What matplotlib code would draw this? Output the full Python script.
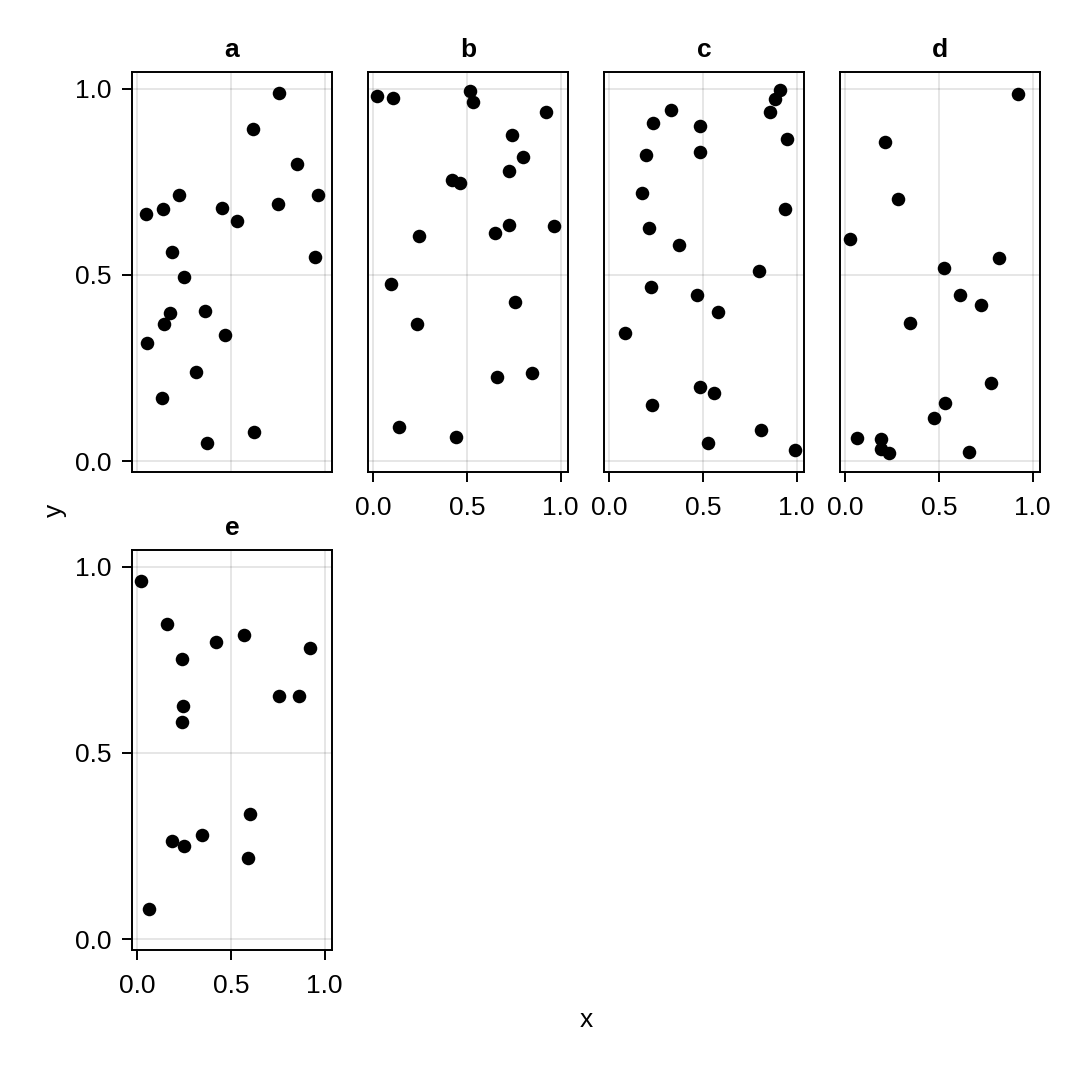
import matplotlib
matplotlib.use("Agg")
import matplotlib.pyplot as plt

plt.rcParams['font.family'] = ['Liberation Sans', 'DejaVu Sans']

# facet names and scatter values
panels = ["a", "b", "c", "d", "e"]

x_a = [0.754, 0.619, 0.852, 0.963, 0.224, 0.137, 0.044, 0.453, 0.533, 0.749, 0.186,
       0.950, 0.249, 0.172, 0.359, 0.140, 0.050, 0.468, 0.311, 0.130, 0.623, 0.370]
y_a = [0.988, 0.892, 0.797, 0.715, 0.714, 0.676, 0.664, 0.679, 0.646, 0.691, 0.561,
       0.547, 0.495, 0.398, 0.404, 0.368, 0.317, 0.340, 0.239, 0.169, 0.079, 0.050]

x_b = [0.019, 0.103, 0.517, 0.533, 0.920, 0.738, 0.800, 0.724, 0.420, 0.462, 0.723,
       0.964, 0.648, 0.242, 0.096, 0.756, 0.231, 0.660, 0.847, 0.138, 0.441]
y_b = [0.980, 0.975, 0.994, 0.964, 0.937, 0.877, 0.817, 0.780, 0.754, 0.747, 0.633,
       0.632, 0.612, 0.604, 0.476, 0.428, 0.369, 0.227, 0.238, 0.091, 0.065]

x_c = [0.913, 0.886, 0.857, 0.327, 0.231, 0.482, 0.947, 0.194, 0.482, 0.174, 0.938, 0.213,
       0.373, 0.797, 0.224, 0.469, 0.578, 0.083, 0.485, 0.560, 0.229, 0.811, 0.528, 0.991]
y_c = [0.998, 0.973, 0.938, 0.943, 0.908, 0.901, 0.866, 0.823, 0.830, 0.721, 0.678, 0.626,
       0.580, 0.511, 0.468, 0.446, 0.400, 0.345, 0.198, 0.182, 0.152, 0.083, 0.050, 0.031]

x_d = [0.922, 0.213, 0.279, 0.025, 0.822, 0.528, 0.612, 0.726, 0.345,
       0.777, 0.532, 0.475, 0.060, 0.192, 0.188, 0.233, 0.660]
y_d = [0.987, 0.858, 0.703, 0.596, 0.545, 0.520, 0.447, 0.419, 0.371,
       0.210, 0.155, 0.116, 0.061, 0.060, 0.034, 0.021, 0.025]

x_e = [0.019, 0.156, 0.236, 0.420, 0.571, 0.920, 0.754, 0.865,
       0.245, 0.236, 0.601, 0.345, 0.186, 0.250, 0.590, 0.060]
y_e = [0.962, 0.846, 0.751, 0.797, 0.818, 0.782, 0.653, 0.653,
       0.626, 0.582, 0.336, 0.280, 0.263, 0.250, 0.219, 0.082]

xs = [x_a, x_b, x_c, x_d, x_e]
ys = [y_a, y_b, y_c, y_d, y_e]
ticks = [0.0, 0.5, 1.0]
tick_labels = ["0.0", "0.5", "1.0"]

W, H = 1072, 1066
fig = plt.figure(figsize=(W / 100, H / 100), dpi=100)

lefts = [132, 368, 604, 840]
tops = [72, 550]
pw, ph = 200, 400
fs = 19

for i, name in enumerate(panels):
    row, col = divmod(i, 4)
    left = lefts[col]
    top = tops[row]
    ax = fig.add_axes([left / W, 1 - (top + ph) / H, pw / W, ph / H])
    ax.scatter(xs[i], ys[i], s=95, color="black", linewidths=0, zorder=3)
    ax.set_xlim(-0.029, 1.039)
    ax.set_ylim(-0.029, 1.045)
    ax.set_xticks(ticks)
    ax.set_yticks(ticks)
    ax.set_xticklabels(tick_labels)
    ax.set_yticklabels(tick_labels)
    ax.grid(True, color="black", alpha=0.1, linewidth=1.4)
    ax.set_axisbelow(True)
    for sp in ax.spines.values():
        sp.set_linewidth(1.4)
    ax.tick_params(direction="out", length=7.5, width=1.4, labelsize=fs)
    ax.tick_params(axis="x", pad=10)
    ax.tick_params(axis="y", pad=7)
    # only the outer facets keep their tick labels
    if col != 0:
        ax.tick_params(axis="y", left=False, labelleft=False)
    if name == "a":
        ax.tick_params(axis="x", bottom=False, labelbottom=False)
    ax.set_title(name, fontsize=fs, fontweight="bold", pad=10.5)

fig.text(586 / W, 1 - 1020 / H, "x", fontsize=fs, ha="center", va="center")
fig.text(55 / W, 1 - 510 / H, "y", fontsize=fs, ha="center", va="center", rotation=90)

fig.savefig("out.png", dpi=100)
